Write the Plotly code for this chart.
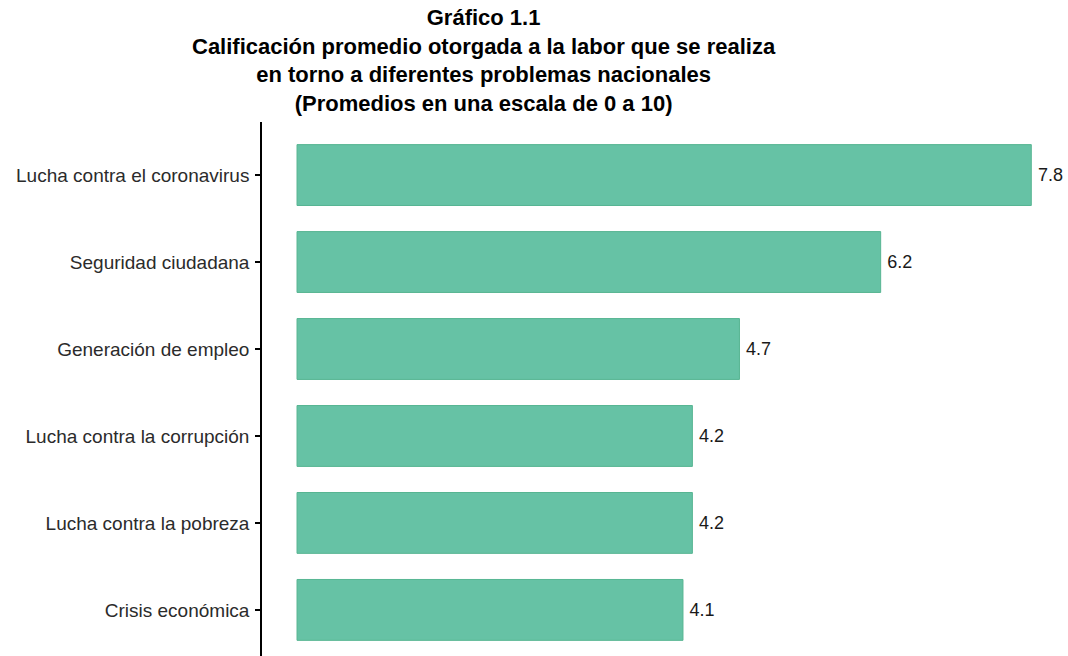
import plotly.graph_objects as go

categories = [
    "Lucha contra el coronavirus",
    "Seguridad ciudadana",
    "Generación de empleo",
    "Lucha contra la corrupción",
    "Lucha contra la pobreza",
    "Crisis económica",
]
values = [7.8, 6.2, 4.7, 4.2, 4.2, 4.1]

title_lines = [
    "Gráfico 1.1",
    "Calificación promedio otorgada a la labor que se realiza",
    "en torno a diferentes problemas nacionales",
    "(Promedios en una escala de 0 a 10)",
]

FONT = "Liberation Sans, Arial, sans-serif"

fig = go.Figure(
    go.Bar(
        x=values,
        y=categories,
        orientation="h",
        width=0.7,
        marker=dict(color="#66C2A5", line=dict(color="#57B592", width=1)),
        texttemplate="\u2009%{x:.1f}",
        textposition="outside",
        textfont=dict(family=FONT, size=18, color="#1a1a1a"),
        cliponaxis=False,
        hoverinfo="skip",
    )
)

W, H = 1068, 656
L, T = 262, 122
PW, PH = W - L, H - T

fig.add_annotation(
    text="<b>" + "<br>".join(title_lines) + "</b>",
    font=dict(family=FONT, size=22, color="black"),
    xref="paper",
    yref="paper",
    x=(484 - L) / PW,
    y=1 + (T - 4) / PH,
    xanchor="center",
    yanchor="top",
    align="center",
    borderpad=0,
    showarrow=False,
)

fig.update_layout(
    width=W,
    height=H,
    margin=dict(l=L, r=0, t=T, b=0, pad=0),
    paper_bgcolor="white",
    plot_bgcolor="white",
    showlegend=False,
    xaxis=dict(
        range=[-0.372, 8.19],
        showgrid=False,
        zeroline=False,
        showticklabels=False,
        ticks="",
        showline=False,
        fixedrange=True,
    ),
    yaxis=dict(
        type="category",
        categoryorder="array",
        categoryarray=categories,
        range=[5.53, -0.61],
        showgrid=False,
        zeroline=False,
        showline=True,
        linecolor="black",
        linewidth=1.5,
        ticks="outside",
        ticklen=5,
        tickwidth=1.5,
        tickcolor="black",
        tickfont=dict(family=FONT, size=19, color="#2b2b2b"),
        ticklabelstandoff=2,
        fixedrange=True,
    ),
)

fig.write_html(
    "out.html",
    config={"displayModeBar": False},
    post_script="document.body.style.margin='0px';document.body.style.overflow='hidden';",
)
